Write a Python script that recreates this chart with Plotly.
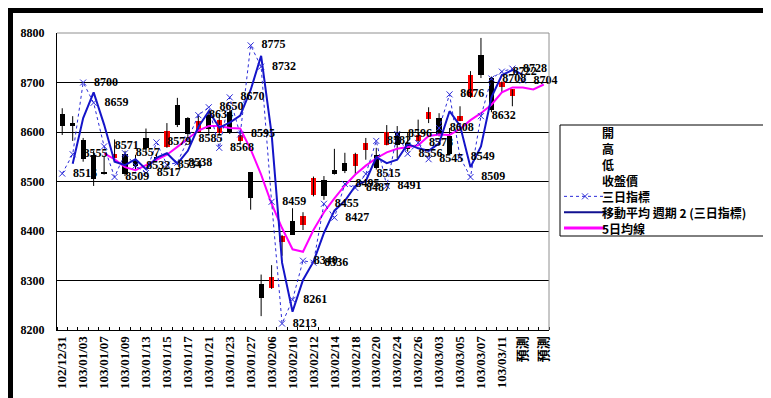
import plotly.graph_objects as go

# ---------------- data ----------------
categories = [
    "102/12/31", "103/01/02", "103/01/03", "103/01/06", "103/01/07", "103/01/08",
    "103/01/09", "103/01/10", "103/01/13", "103/01/14", "103/01/15", "103/01/16",
    "103/01/17", "103/01/20", "103/01/21", "103/01/22", "103/01/23", "103/01/24",
    "103/01/27", "103/02/05", "103/02/06", "103/02/07", "103/02/10", "103/02/11",
    "103/02/12", "103/02/13", "103/02/14", "103/02/17", "103/02/18", "103/02/19",
    "103/02/20", "103/02/21", "103/02/24", "103/02/25", "103/02/26", "103/02/27",
    "103/03/03", "103/03/04", "103/03/05", "103/03/06", "103/03/07", "103/03/10",
    "103/03/11", "103/03/12", "預測", "預測 ", "預測  ",
]
tick_labels = ["102/12/31", "103/01/03", "103/01/07", "103/01/09", "103/01/13", "103/01/15",
               "103/01/17", "103/01/21", "103/01/23", "103/01/27", "103/02/06", "103/02/10",
               "103/02/12", "103/02/14", "103/02/18", "103/02/20", "103/02/24", "103/02/26",
               "103/03/03", "103/03/05", "103/03/07", "103/03/11", "預測", "預測"]

open_p = [8636, 8618, 8584, 8554, 8518, 8547, 8556, 8544, 8588, 8550, 8569, 8655,
          8628, 8601, 8635, 8598, 8640, 8582, 8519, 8292, 8285, 8378, 8420, 8412,
          8473, 8504, 8523, 8537, 8531, 8564, 8554, 8574, 8601, 8578, 8582, 8627,
          8628, 8592, 8623, 8670, 8756, 8709, 8690, 8672, None, None, None]
high_p = [8648, 8632, 8588, 8562, 8552, 8585, 8562, 8554, 8607, 8556, 8618, 8669,
          8630, 8635, 8640, 8635, 8644, 8600, 8519, 8312, 8331, 8392, 8446, 8438,
          8510, 8511, 8566, 8558, 8558, 8588, 8568, 8614, 8612, 8598, 8625, 8650,
          8638, 8608, 8652, 8723, 8790, 8712, 8702, 8686, None, None, None]
low_p = [8594, 8582, 8540, 8491, 8514, 8540, 8511, 8521, 8558, 8540, 8568, 8610,
         8588, 8598, 8595, 8595, 8596, 8578, 8443, 8228, 8283, 8350, 8392, 8402,
         8470, 8463, 8514, 8517, 8514, 8544, 8524, 8573, 8547, 8560, 8580, 8618,
         8591, 8554, 8622, 8669, 8709, 8640, 8680, 8652, None, None, None]
close_p = [8612, 8614, 8545, 8505, 8516, 8556, 8515, 8531, 8568, 8547, 8603, 8614,
           8595, 8622, 8607, 8625, 8598, 8594, 8467, 8265, 8308, 8390, 8392, 8430,
           8508, 8470, 8516, 8521, 8556, 8578, 8527, 8601, 8574, 8565, 8593, 8640,
           8595, 8556, 8632, 8716, 8716, 8645, 8701, 8686, None, None, None]

three_day = [8516, 8555, 8700, 8659, 8571, 8509, 8557, 8532, 8517, 8579, 8534, 8538,
             8585, 8634, 8650, 8568, 8670, 8595, 8775, 8732, 8459, 8213, 8261, 8340,
             8336, 8455, 8427, 8495, 8487, 8515, 8582, 8491, 8596, 8556, 8578, 8545,
             8608, 8676, 8549, 8509, 8632, 8708, 8722, 8728, 8704, None, None]
ma2 = [None, 8536, 8628, 8680, 8615, 8540, 8533, 8545, 8525, 8548, 8557, 8536,
       8562, 8610, 8642, 8609, 8619, 8633, 8685, 8754, 8596, 8336, 8237, 8301,
       8338, 8396, 8441, 8461, 8491, 8501, 8549, 8537, 8544, 8576, 8567, 8562,
       8577, 8642, 8613, 8529, 8571, 8670, 8715, 8725, 8716, None, None]
ma5 = [None, None, None, None, 8557, 8545, 8529, 8523, 8533, 8544, 8554, 8570,
       8587, 8603, 8612, 8612, 8608, 8607, 8565, 8514, 8455, 8406, 8363, 8358,
       8402, 8438, 8466, 8492, 8514, 8532, 8547, 8559, 8566, 8569, 8573, 8592,
       8595, 8594, 8606, 8624, 8638, 8655, 8680, 8690, 8690, 8686, 8696]

legend_names = ["開", "高", "低", "收盤價", "三日指標", "移動平均 週期 2 (三日指標)", "5日均線"]

# ---------------- styles ----------------
RED = "#ff0000"
DOT_BLUE = "#2a2ad8"
MA_BLUE = "#1414c8"
MAGENTA = "#ff00ff"

# ---------------- geometry ----------------
W, H = 771, 398
ML, MR, MT, MB = 49, 230, 25, 76
PW, PH = W - ML - MR, H - MT - MB


def px(xp):
    return (xp - ML) / PW


def py(yp):
    return (H - MB - yp) / PH


xs = list(range(len(categories)))

num_font = dict(family="Liberation Serif, Noto Sans CJK TC", size=12, color="black", weight="bold")

fig = go.Figure()

# wicks
wx, wy = [], []
for i, (h, l) in enumerate(zip(high_p, low_p)):
    if h is None:
        continue
    wx += [i, i, None]
    wy += [l, h, None]
fig.add_trace(go.Scatter(x=wx, y=wy, mode="lines", line=dict(color="black", width=1),
                         showlegend=False, hoverinfo="skip", name="高/低"))

# bodies
bx, bbase, bh, bcol = [], [], [], []
for i, (o, c) in enumerate(zip(open_p, close_p)):
    if o is None:
        continue
    bx.append(i)
    bbase.append(min(o, c))
    bh.append(max(abs(c - o), 2))
    bcol.append(RED if c > o else "black")
fig.add_trace(go.Bar(x=bx, y=bh, base=bbase, width=0.5, marker=dict(color=bcol, line=dict(width=0)),
                     showlegend=False, hoverinfo="skip", name="開/收盤價"))

# 5-day MA
fig.add_trace(go.Scatter(x=xs, y=ma5, mode="lines", name=legend_names[6], showlegend=False,
                         line=dict(color=MAGENTA, width=2)))
# moving average period 2
fig.add_trace(go.Scatter(x=xs, y=ma2, mode="lines", name=legend_names[5], showlegend=False,
                         line=dict(color=MA_BLUE, width=2)))
# 3-day indicator
fig.add_trace(go.Scatter(x=xs, y=three_day, mode="lines+markers+text", name=legend_names[4],
                         showlegend=False, cliponaxis=False,
                         line=dict(color=DOT_BLUE, width=1, dash="dot"),
                         marker=dict(symbol="x-thin", size=6, color=DOT_BLUE,
                                     line=dict(color=DOT_BLUE, width=1)),
                         text=["\u00a0\u00a0" + str(v) if v is not None else "" for v in three_day],
                         textposition="middle right", textfont=num_font))

# ---------------- legend (drawn as a boxed key) ----------------
LX0, LX1, LY0, LY1 = 552, 760, 117, 228
row_h = (LY1 - LY0) / len(legend_names)
shapes = [
    dict(type="rect", xref="paper", yref="paper", x0=px(5), x1=px(765), y0=py(392), y1=py(5),
         fillcolor="white", line=dict(width=0), layer="below"),
    dict(type="line", xref="paper", yref="paper", x0=0, x1=1, y0=1, y1=1,
         line=dict(color="#909090", width=1), layer="above"),
    dict(type="line", xref="paper", yref="paper", x0=1, x1=1, y0=0, y1=1,
         line=dict(color="#909090", width=1), layer="above"),
    dict(type="rect", xref="paper", yref="paper", x0=px(LX0), x1=px(LX1), y0=py(LY1), y1=py(LY0),
         fillcolor="white", line=dict(color="black", width=1), layer="above"),
]
annotations = []
for k, name in enumerate(legend_names):
    yc = LY0 + row_h * (k + 0.5)
    annotations.append(dict(x=px(592), y=py(yc), xref="paper", yref="paper", text=name,
                            showarrow=False, xanchor="left", yanchor="middle",
                            font=dict(family="Noto Sans CJK TC", size=12, color="black", weight="bold")))
    if k == 4:
        shapes.append(dict(type="line", xref="paper", yref="paper", x0=px(556), x1=px(597),
                           y0=py(yc), y1=py(yc), line=dict(color=DOT_BLUE, width=1, dash="dot"),
                           layer="above"))
        shapes.append(dict(type="line", xref="paper", yref="paper", x0=px(574), x1=px(580),
                           y0=py(yc - 3), y1=py(yc + 3), line=dict(color=DOT_BLUE, width=1), layer="above"))
        shapes.append(dict(type="line", xref="paper", yref="paper", x0=px(574), x1=px(580),
                           y0=py(yc + 3), y1=py(yc - 3), line=dict(color=DOT_BLUE, width=1), layer="above"))
    elif k == 5:
        shapes.append(dict(type="line", xref="paper", yref="paper", x0=px(556), x1=px(597),
                           y0=py(yc), y1=py(yc), line=dict(color="#101090", width=2), layer="above"))
    elif k == 6:
        shapes.append(dict(type="line", xref="paper", yref="paper", x0=px(556), x1=px(597),
                           y0=py(yc), y1=py(yc), line=dict(color=MAGENTA, width=3), layer="above"))

fig.update_layout(
    width=W, height=H,
    margin=dict(l=ML, r=MR, t=MT, b=MB, pad=0),
    paper_bgcolor="black", plot_bgcolor="white",
    barmode="overlay", bargap=0,
    showlegend=False,
    xaxis=dict(range=[-0.5, len(categories) - 0.5], tickmode="array",
               tickvals=xs[::2], ticktext=tick_labels, tickangle=-90,
               tickfont=dict(family="Liberation Serif, Noto Sans CJK TC", size=13, color="black", weight="bold"),
               showline=True, linecolor="black", linewidth=1, ticks="", showgrid=False, zeroline=False,
               minor=dict(tickmode="linear", tick0=-0.5, dtick=1, ticks="inside", ticklen=3,
                          tickcolor="black", showgrid=False)),
    yaxis=dict(range=[8200, 8800], tick0=8200, dtick=100, showgrid=True, gridcolor="black",
               gridwidth=1, showline=True, linecolor="black", linewidth=1, ticks="",
               zeroline=False, tickfont=num_font, ticklabelstandoff=9),
    shapes=shapes,
    annotations=annotations,
)

fig.write_html("out.html")
